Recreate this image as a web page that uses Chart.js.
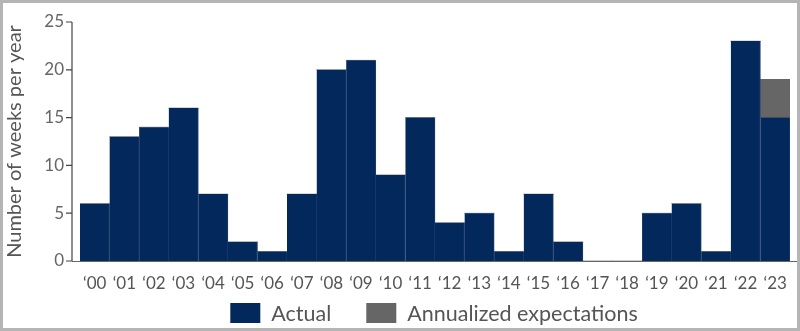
<!DOCTYPE html>
<html>
<head>
<meta charset="utf-8">
<script src="https://cdn.jsdelivr.net/npm/chart.js@4"></script>
<style>
  html, body { margin: 0; padding: 0; background: #fff; }
  #wrap { width: 800px; height: 331px; box-sizing: border-box; border: 3px solid #b5b5b5; }
  canvas { display: block; }
</style>
</head>
<body>
<div id="wrap"><canvas id="chart" width="794" height="325"></canvas></div>
<script>
const years = ["‘00", "‘01", "‘02", "‘03", "‘04", "‘05", "‘06", "‘07", "‘08", "‘09", "‘10", "‘11",
               "‘12", "‘13", "‘14", "‘15", "‘16", "‘17", "‘18", "‘19", "‘20", "‘21", "‘22", "‘23"];
const actual = [6, 13, 14, 16, 7, 2, 1, 7, 20, 21, 9, 15, 4, 5, 1, 7, 2, 0, 0, 5, 6, 1, 23, 15];
const expected = [0, 0, 0, 0, 0, 0, 0, 0, 0, 0, 0, 0, 0, 0, 0, 0, 0, 0, 0, 0, 0, 0, 0, 4];
const yTicks = [0, 5, 10, 15, 20, 25];

const navy = "#03295c";
const grey = "#666666";
const fontName = "Lato, 'Noto Sans', sans-serif";

// axis lines drawn a bit outside the bars, like the original
const axisLines = {
    id: "axisLines",
    afterDatasetsDraw(chart) {
        const ctx = chart.ctx;
        const y = chart.scales.y;
        const area = chart.chartArea;
        const axisX = area.left - 8;
        ctx.save();
        ctx.strokeStyle = "#444";
        ctx.lineWidth = 1.2;
        ctx.beginPath();
        ctx.moveTo(axisX, y.getPixelForValue(25));
        ctx.lineTo(axisX, y.getPixelForValue(0));
        yTicks.forEach(v => {
            const py = y.getPixelForValue(v);
            ctx.moveTo(axisX - 6, py);
            ctx.lineTo(axisX, py);
        });
        ctx.stroke();
        ctx.strokeStyle = "#666";
        ctx.beginPath();
        ctx.moveTo(axisX, y.getPixelForValue(0) + 0.5);
        ctx.lineTo(area.right + 7, y.getPixelForValue(0) + 0.5);
        ctx.stroke();
        ctx.restore();
    }
};

// legend below the axis, centred under the bars
const bottomLegend = {
    id: "bottomLegend",
    afterDraw(chart) {
        const ctx = chart.ctx;
        const area = chart.chartArea;
        const sets = chart.data.datasets;
        const boxW = 30, boxH = 20, textGap = 11, itemGap = 35;
        ctx.save();
        ctx.font = "21.5px " + fontName;
        ctx.textBaseline = "middle";
        let total = 0;
        sets.forEach((d, i) => {
            total += boxW + textGap + ctx.measureText(d.label).width + (i ? itemGap : 0);
        });
        let x = (area.left + area.right) / 2 - 1 - total / 2;
        const cy = 310;
        sets.forEach((d, i) => {
            if (i) x += itemGap;
            ctx.fillStyle = d.backgroundColor;
            ctx.fillRect(x, cy - boxH / 2, boxW, boxH);
            x += boxW + textGap;
            ctx.fillStyle = "#555";
            ctx.fillText(d.label, x, cy + 1);
            x += ctx.measureText(d.label).width;
        });
        ctx.restore();
    }
};

new Chart(document.getElementById("chart"), {
    type: "bar",
    data: {
        labels: years,
        datasets: [{
            label: "Actual",
            data: actual,
            backgroundColor: navy,
            borderColor: "#1c3d6b",
            borderWidth: { right: 1 },
            borderSkipped: false
        }, {
            label: "Annualized expectations",
            data: expected,
            backgroundColor: grey,
            borderColor: grey,
            borderWidth: 0
        }]
    },
    options: {
        responsive: false,
        animation: false,
        barPercentage: 1,
        categoryPercentage: 1,
        layout: { padding: { top: 0, right: 7, bottom: 28, left: 0 } },
        plugins: {
            tooltip: { enabled: false },
            legend: { display: false }
        },
        scales: {
            x: {
                stacked: true,
                grid: { display: false },
                border: { display: false },
                afterFit(scale) { scale.height = 39; },
                ticks: {
                    color: "#555",
                    padding: 4,
                    maxRotation: 0,
                    autoSkip: false,
                    font: { family: fontName, size: 17 }
                }
            },
            y: {
                stacked: true,
                min: 0,
                max: 25,
                grid: { display: false },
                border: { display: false },
                afterFit(scale) { scale.width = 77; scale.paddingTop = 19; },
                afterBuildTicks(scale) { scale.ticks = yTicks.map(v => ({ value: v })); },
                ticks: {
                    color: "#666",
                    padding: 8,
                    font: { family: fontName, size: 17 }
                },
                title: {
                    display: true,
                    text: "Number of weeks per year",
                    color: "#555",
                    padding: { top: 0, bottom: 0 },
                    font: { family: fontName, size: 20 }
                }
            }
        }
    },
    plugins: [axisLines, bottomLegend]
});
</script>
</body>
</html>
